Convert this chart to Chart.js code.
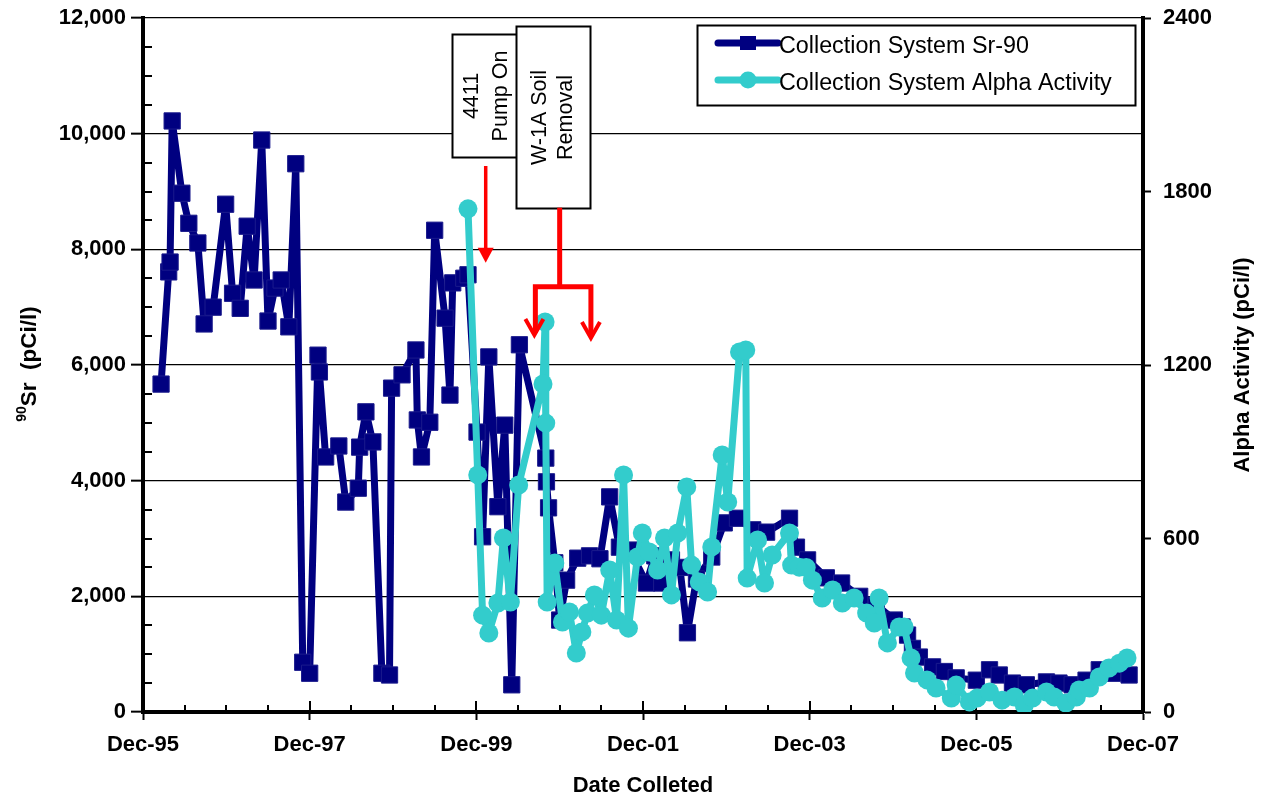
<!DOCTYPE html>
<html>
<head>
<meta charset="utf-8">
<title>Collection System Sr-90 and Alpha Activity</title>
<script src="https://cdn.jsdelivr.net/npm/chart.js@4.4.1/dist/chart.umd.min.js"></script>
<style>
  html, body { margin: 0; padding: 0; background: #fff; }
  #wrap { width: 1263px; height: 799px; }
</style>
</head>
<body>
<div id="wrap"><canvas id="c" width="1263" height="799"></canvas></div>
<script>
// Sample dates are months after Dec-95.
const sr90Months = [2.6, 3.7, 3.9, 4.2, 5.6, 6.6, 7.9, 8.8, 10.1, 11.9, 12.9, 14.0, 15.0, 16.0, 17.1, 18.0, 19.0, 19.9, 21.0, 22.0,
  23.0, 24.0, 25.2, 25.4, 26.3, 28.2, 29.2, 31.0, 31.2, 32.1, 33.1, 34.4, 35.5, 35.8, 37.3, 39.3, 39.5, 40.1, 41.3, 42.0,
  43.5, 44.2, 44.6, 46.2, 46.8, 48.1, 48.9, 49.8, 51.1, 52.1, 53.1, 54.2, 58.0, 58.1, 58.4, 59.3, 60.0, 61.0, 62.6, 64.3,
  65.8, 67.2, 68.6, 70.1, 72.5, 73.7, 74.7, 76.1, 77.3, 78.4, 79.7, 81.9, 83.7, 85.6, 87.8, 89.8, 93.1, 94.1, 95.7, 98.4,
  100.6, 103.2, 105.6, 108.2, 109.3, 110.1, 110.8, 111.8, 113.7, 115.4, 117.1, 120.0, 121.9, 123.3, 125.2, 127.2, 130.1, 131.9, 133.8, 135.8,
  137.7, 139.6, 142.0];
const sr90Values = [5670, 7610, 7780, 10220, 8970, 8450, 8110, 6710, 7000, 8780, 7240, 6980, 8400, 7470, 9890, 6760, 7330, 7470, 6660, 9480,
  860, 670, 6170, 5880, 4410, 4600, 3630, 3870, 4580, 5190, 4670, 670, 640, 5600, 5830, 6260, 5050, 4410, 5010, 8330,
  6810, 5480, 7420, 7500, 7560, 4840, 3030, 6140, 3550, 4960, 470, 6350, 4390, 3980, 3530, 2580, 1590, 2280, 2660, 2700,
  2650, 3720, 2850, 2800, 2230, 2700, 2230, 2630, 2500, 1370, 2300, 2680, 3270, 3350, 3150, 3110, 3350, 2850, 2630, 2320,
  2230, 2000, 1850, 1590, 1470, 1330, 1100, 950, 780, 700, 590, 550, 730, 640, 500, 470, 520, 500, 470, 550,
  730, 670, 640];

const alphaMonths = [46.8, 48.2, 48.9, 49.8, 51.1, 51.9, 52.9, 54.1, 57.6, 57.9, 58.0, 58.2, 59.3, 60.4, 61.4, 62.4, 63.2, 64.0, 65.0, 66.0,
  67.2, 68.2, 69.2, 69.9, 71.2, 71.9, 72.9, 74.1, 75.1, 76.1, 77.0, 78.3, 79.0, 80.1, 81.3, 81.9, 83.4, 84.2, 85.9, 86.8,
  87.0, 88.5, 89.5, 90.6, 93.1, 93.4, 94.5, 95.5, 96.4, 97.8, 99.3, 100.7, 102.4, 104.2, 105.3, 106.0, 107.2, 108.9, 109.6, 110.6,
  111.1, 112.9, 114.2, 116.4, 117.1, 119.0, 120.1, 121.9, 123.7, 125.5, 126.9, 128.1, 130.1, 131.2, 132.9, 134.4, 134.8, 136.3, 137.7, 139.1,
  140.6, 141.7];
const alphaValues = [1740, 820, 335, 273, 377, 602, 380, 785, 1134, 1349, 999, 380, 515, 311, 346, 204, 277, 342, 405, 335,
  491, 318, 820, 290, 536, 619, 553, 491, 602, 405, 619, 778, 508, 450, 415, 571, 889, 726, 1245, 1252,
  463, 595, 446, 543, 619, 508, 501, 500, 456, 394, 422, 377, 394, 342, 308, 394, 239, 294, 294, 187,
  135, 111, 83, 48, 93, 35, 48, 69, 41, 52, 24, 48, 69, 52, 31, 52, 76, 83, 121, 152,
  169, 187];

const dateTickLabels = ['Dec-95', 'Dec-97', 'Dec-99', 'Dec-01', 'Dec-03', 'Dec-05', 'Dec-07'];
const seriesNames = ['Collection System Sr-90', 'Collection System Alpha Activity'];

const NAVY = '#000080';
const TEAL = '#33CCCC';
const RED = '#FF0000';
const FONT = '"Liberation Sans", Arial, sans-serif';

// Event annotations, placed in data units (months, Sr-90 pCi/l).
const events = {
  pump: { box: [44.46, 54.5, 11724, 9597], lines: ['4411', 'Pump On'], lineGap: 29,
          arrowX: 49.35, arrowFrom: 9441, arrowTo: 7770 },
  soil: { box: [53.67, 64.3, 11868, 8720], lines: ['W-1A Soil', 'Removal'], lineGap: 26,
          stemX: 60.0, barY: 7354, leftX: 56.5, rightX: 64.5, leftTo: 6519, rightTo: 6467 }
};

const toPoints = (xs, ys) => xs.map((m, i) => ({ x: m, y: ys[i] }));

const decorPlugin = {
  id: 'decor',
  beforeDatasetsDraw(chart) {
    const { ctx, chartArea: a, scales: { x, y } } = chart;
    ctx.save();
    ctx.strokeStyle = '#000';
    ctx.lineWidth = 2;
    // minor ticks on the Sr-90 axis (inside)
    for (let v = 500; v < 12000; v += 500) {
      if (v % 2000 === 0) continue;
      const py = Math.round(y.getPixelForValue(v));
      ctx.beginPath(); ctx.moveTo(a.left, py); ctx.lineTo(a.left + 9, py); ctx.stroke();
    }
    // half-year ticks on the date axis (inside)
    for (let m = 0; m <= 144; m += 6) {
      const px = Math.round(x.getPixelForValue(m));
      const len = (m % 24 === 0) ? 11 : 7;
      ctx.beginPath(); ctx.moveTo(px, a.bottom); ctx.lineTo(px, a.bottom - len); ctx.stroke();
    }
    ctx.restore();
  },
  afterDatasetsDraw(chart) {
    const { ctx, scales: { x, y } } = chart;
    ctx.save();

    const drawBox = (ev) => {
      const [m0, m1, v0, v1] = ev.box;
      const l = Math.round(x.getPixelForValue(m0)) + 0.5, r = Math.round(x.getPixelForValue(m1)) + 0.5;
      const t = Math.round(y.getPixelForValue(v0)) + 0.5, b = Math.round(y.getPixelForValue(v1)) + 0.5;
      ctx.fillStyle = '#fff';
      ctx.fillRect(l, t, r - l, b - t);
      ctx.strokeStyle = '#000';
      ctx.lineWidth = 2;
      ctx.strokeRect(l, t, r - l, b - t);
      const cx = (l + r) / 2, cy = (t + b) / 2;
      ctx.save();
      ctx.translate(cx, cy);
      ctx.rotate(-Math.PI / 2);
      ctx.fillStyle = '#000';
      ctx.font = '21.5px ' + FONT;
      ctx.textAlign = 'center';
      ctx.textBaseline = 'middle';
      const n = ev.lines.length;
      ev.lines.forEach((s, i) => {
        ctx.fillText(s, 0, (i - (n - 1) / 2) * ev.lineGap);
      });
      ctx.restore();
    };

    const arrowHeadFilled = (px, tipY) => {
      ctx.beginPath();
      ctx.moveTo(px - 8, tipY - 15);
      ctx.lineTo(px + 8, tipY - 15);
      ctx.lineTo(px, tipY);
      ctx.closePath();
      ctx.fill();
    };
    const arrowHeadOpen = (px, tipY) => {
      ctx.beginPath();
      ctx.moveTo(px - 9, tipY - 16);
      ctx.lineTo(px, tipY);
      ctx.lineTo(px + 9, tipY - 16);
      ctx.stroke();
    };

    // 4411 pump start
    const p = events.pump;
    drawBox(p);
    ctx.strokeStyle = RED; ctx.fillStyle = RED;
    ctx.lineWidth = 3.5; ctx.lineCap = 'butt';
    const px = x.getPixelForValue(p.arrowX);
    const pTip = y.getPixelForValue(p.arrowTo);
    ctx.beginPath(); ctx.moveTo(px, y.getPixelForValue(p.arrowFrom)); ctx.lineTo(px, pTip - 12); ctx.stroke();
    arrowHeadFilled(px, pTip);

    // W-1A soil removal period
    const s = events.soil;
    drawBox(s);
    ctx.strokeStyle = RED;
    ctx.lineWidth = 5; ctx.lineJoin = 'miter'; ctx.lineCap = 'butt';
    const sx = x.getPixelForValue(s.stemX);
    const barY = y.getPixelForValue(s.barY);
    const lx = x.getPixelForValue(s.leftX), rx = x.getPixelForValue(s.rightX);
    ctx.beginPath(); ctx.moveTo(sx, y.getPixelForValue(s.box[3])); ctx.lineTo(sx, barY); ctx.stroke();
    ctx.beginPath();
    ctx.moveTo(lx, y.getPixelForValue(s.leftTo) - 2);
    ctx.lineTo(lx, barY);
    ctx.lineTo(rx, barY);
    ctx.lineTo(rx, y.getPixelForValue(s.rightTo) - 2);
    ctx.stroke();
    ctx.lineWidth = 4;
    arrowHeadOpen(lx - 1, y.getPixelForValue(s.leftTo));
    arrowHeadOpen(rx, y.getPixelForValue(s.rightTo));

    ctx.restore();
  },
  afterDraw(chart) {
    const { ctx, chartArea: a, data } = chart;
    ctx.save();

    // legend box
    const bl = a.right - 446, bt = a.top + 7, bw = 438, bh = 80;
    ctx.fillStyle = '#fff';
    ctx.fillRect(bl, bt, bw, bh);
    ctx.strokeStyle = '#000';
    ctx.lineWidth = 2;
    ctx.strokeRect(bl + 0.5, bt + 0.5, bw, bh);
    data.datasets.forEach((ds, i) => {
      const rowY = bt + 18 + i * 37;
      const x0 = bl + 21, x1 = bl + 81, xm = (x0 + x1) / 2;
      ctx.strokeStyle = ds.borderColor;
      ctx.lineWidth = 7;
      ctx.lineCap = 'round';
      ctx.beginPath(); ctx.moveTo(x0, rowY); ctx.lineTo(x1, rowY); ctx.stroke();
      ctx.fillStyle = ds.backgroundColor;
      if (ds.pointStyle === 'rect') {
        ctx.fillRect(xm - 8, rowY - 7, 16, 14);
      } else {
        ctx.beginPath(); ctx.arc(xm, rowY, 8.5, 0, Math.PI * 2); ctx.fill();
      }
      ctx.fillStyle = '#000';
      ctx.font = '23.3px ' + FONT;
      ctx.textAlign = 'left';
      ctx.textBaseline = 'middle';
      ctx.fillText(ds.label, x1 + 1, rowY + 4);
    });

    // axis titles
    ctx.fillStyle = '#000';
    ctx.font = 'bold 22px ' + FONT;
    ctx.textAlign = 'center';
    ctx.textBaseline = 'middle';
    ctx.fillText('Date Colleted', (a.left + a.right) / 2, a.bottom + 74);

    // left: superscript 90 + "Sr  (pCi/l)", reading upward
    ctx.save();
    ctx.translate(36, (a.top + a.bottom) / 2 - 1);
    ctx.rotate(-Math.PI / 2);
    ctx.textBaseline = 'alphabetic';
    ctx.textAlign = 'left';
    const main = 'Sr  (pCi/l)';
    ctx.font = 'bold 22.5px ' + FONT;
    const wMain = ctx.measureText(main).width;
    ctx.font = 'bold 14px ' + FONT;
    const wSup = ctx.measureText('90').width;
    const start = -(wMain + wSup) / 2;
    ctx.fillText('90', start, -10);
    ctx.font = 'bold 22.5px ' + FONT;
    ctx.fillText(main, start + wSup, 0);
    ctx.restore();

    // right, reading upward
    ctx.save();
    ctx.translate(1249, (a.top + a.bottom) / 2);
    ctx.rotate(-Math.PI / 2);
    ctx.textAlign = 'center';
    ctx.textBaseline = 'alphabetic';
    ctx.font = 'bold 22px ' + FONT;
    ctx.fillText('Alpha Activity (pCi/l)', 0, 0);
    ctx.restore();

    ctx.restore();
  }
};

const tickFont = { family: FONT, size: 22, weight: 'bold' };
// vertical axes: no extra label overhang so the plot top sits on layout padding
const fitVertical = (w) => (s) => { s.width = w; s.paddingTop = 0; s.paddingBottom = 0; };

new Chart(document.getElementById('c'), {
  type: 'line',
  data: {
    datasets: [
      {
        label: seriesNames[0],
        data: toPoints(sr90Months, sr90Values),
        yAxisID: 'y',
        borderColor: NAVY,
        backgroundColor: NAVY,
        borderWidth: 7,
        borderJoinStyle: 'round',
        borderCapStyle: 'round',
        pointStyle: 'rect',
        pointRadius: 11.5,
        pointBorderWidth: 1,
        pointBorderColor: '#1a1a8c',
        tension: 0,
        order: 2
      },
      {
        label: seriesNames[1],
        data: toPoints(alphaMonths, alphaValues),
        yAxisID: 'y2',
        borderColor: TEAL,
        backgroundColor: TEAL,
        borderWidth: 7,
        borderJoinStyle: 'round',
        borderCapStyle: 'round',
        pointStyle: 'circle',
        pointRadius: 9.5,
        pointBorderWidth: 0,
        tension: 0,
        order: 1
      }
    ]
  },
  options: {
    responsive: false,
    animation: false,
    devicePixelRatio: 1,
    layout: { padding: { top: 18, left: 0, right: 0, bottom: 0 } },
    plugins: {
      legend: { display: false },
      tooltip: { enabled: false }
    },
    scales: {
      x: {
        type: 'linear',
        min: 0,
        max: 144,
        ticks: {
          stepSize: 24,
          autoSkip: false,
          maxRotation: 0,
          color: '#000',
          font: tickFont,
          padding: 12,
          callback: (v) => dateTickLabels[Math.round(v / 24)]
        },
        grid: { drawOnChartArea: false, color: '#000', tickLength: 8, tickWidth: 2 },
        border: { display: true, color: '#000', width: 4 },
        afterFit: (s) => { s.height = 87; }
      },
      y: {
        position: 'left',
        min: 0,
        max: 12000,
        ticks: {
          stepSize: 2000,
          color: '#000',
          font: tickFont,
          padding: 5,
          callback: (v) => v.toLocaleString('en-US')
        },
        grid: { color: '#000', lineWidth: 1.3, tickLength: 12, tickWidth: 2 },
        border: { display: true, color: '#000', width: 4 },
        afterFit: fitVertical(143)
      },
      y2: {
        position: 'right',
        min: 0,
        max: 2400,
        ticks: {
          stepSize: 600,
          color: '#000',
          font: tickFont,
          padding: 12,
          callback: (v) => String(v)
        },
        grid: { drawOnChartArea: false, color: '#000', tickLength: 8, tickWidth: 2 },
        border: { display: true, color: '#000', width: 4 },
        afterFit: fitVertical(120)
      }
    }
  },
  plugins: [decorPlugin]
});
</script>
</body>
</html>
